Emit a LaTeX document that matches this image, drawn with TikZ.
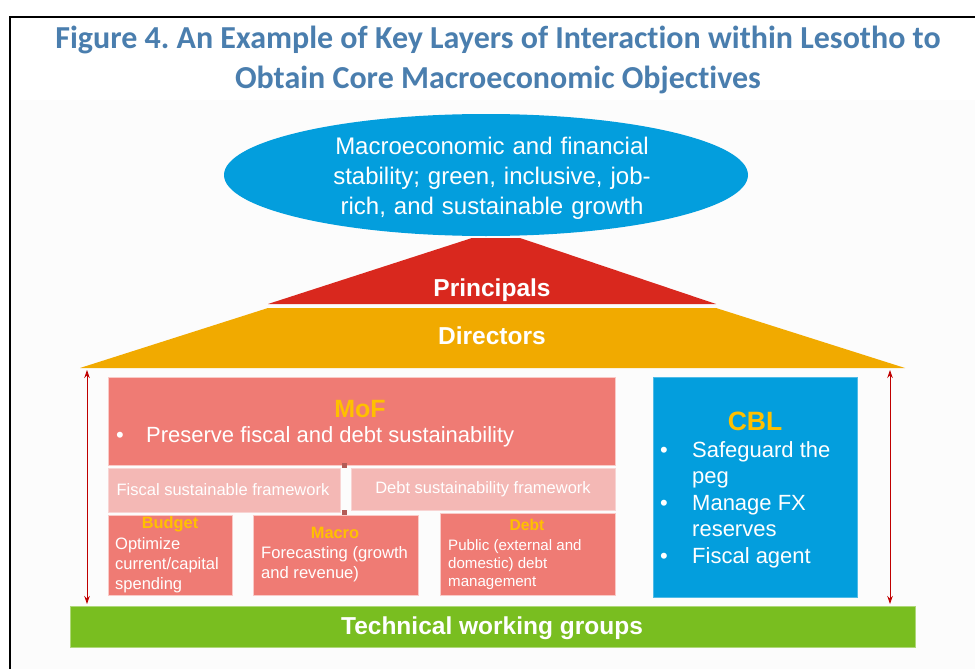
\documentclass[tikz,border=0pt]{standalone}
\usepackage{fontspec}
\setmainfont{Liberation Sans}
\newfontfamily\titlefont[Ligatures={NoCommon}]{Carlito}
\usetikzlibrary{arrows.meta,shapes.geometric}
\definecolor{titleblue}{RGB}{74,126,174}
\definecolor{skyblue}{RGB}{3,158,221}
\definecolor{princred}{RGB}{217,40,30}
\definecolor{dirorange}{RGB}{241,170,0}
\definecolor{salmon}{RGB}{239,123,116}
\definecolor{lightpink}{RGB}{244,184,181}
\definecolor{gold}{RGB}{255,192,0}
\definecolor{grassgreen}{RGB}{121,190,32}
\definecolor{arrowred}{RGB}{192,0,0}
\definecolor{bgray}{RGB}{252,252,252}
\tikzset{
  fs/.style={font=\fontsize{#1}{#1}\selectfont},
  box/.style={draw=white!60!salmon, line width=0.6pt, fill=salmon},
  fwbox/.style={draw=white!40!lightpink, line width=1pt, fill=lightpink},
  lbl/.style={text=white, inner sep=0pt},
  head/.style={text=gold, font=\fontsize{#1}{#1}\selectfont\bfseries, inner sep=0pt},
  span/.style={arrowred, line width=0.9pt, {Stealth[length=8pt,width=5.5pt]}-{Stealth[length=8pt,width=5.5pt]}},
}
\newcommand{\bul}{\makebox[32pt][l]{\textbullet}}
\newcommand{\ind}{\hspace*{32pt}}
\frenchspacing
\begin{document}
\begin{tikzpicture}[x=1pt,y=-1pt]
\useasboundingbox (0,0) rectangle (975,669);
\fill[white] (0,0) rectangle (975,669);
\fill[bgray] (10,100) rectangle (975,669);
% frame
\draw[line width=2pt] (10,669) -- (10,17) -- (975,17);
% title
\node[text=titleblue, font=\titlefont\fontsize{32}{40}\selectfont\bfseries, align=center, inner sep=0pt] (title) at (498,60)
  {Figure 4. An Example of Key Layers of Interaction within Lesotho to\\Obtain Core Macroeconomic Objectives};
% goal ellipse
\node[ellipse, fill=skyblue, minimum width=524pt, minimum height=122pt, inner sep=0pt] (goal) at (486,175) {};
\node[lbl, align=center, text width=360pt, font=\fontsize{24}{30}\selectfont] (goaltxt) at (492,178)
  {Macroeconomic and financial\\stability; green, inclusive, job-\\rich, and sustainable growth};
% principals
\fill[princred] (472,238) -- (520,238) -- (716,304) -- (268,304) -- cycle;
\node[lbl, font=\fontsize{24.5}{24.5}\selectfont\bfseries] (princ) at (492,290) {Principals};
% directors
\fill[dirorange] (268,308) -- (716,308) -- (905,368) -- (80,368) -- cycle;
\node[lbl, font=\fontsize{24.5}{24.5}\selectfont\bfseries] (dir) at (492,336) {Directors};
% MoF
\path[box] (108,377) rectangle (615,465);
\node[head=25] (mof) at (360,409) {MoF};
\node[lbl, anchor=west, font=\fontsize{22}{22}\selectfont] (moft) at (116,437) {\makebox[30pt][l]{\textbullet}Preserve fiscal and debt sustainability};
\fill[salmon!75!black] (342,463) rectangle (347,468);
\fill[salmon!75!black] (342,510) rectangle (347,515);
% frameworks
\path[fwbox] (108,468) rectangle (340,512);
\node[lbl, fs=16.5] (fsf) at (223,490) {Fiscal sustainable framework};
\path[fwbox] (351,468) rectangle (615,510);
\node[lbl, fs=16.5] (dsf) at (483,489) {Debt sustainability framework};
% budget
\path[box] (108,515) rectangle (232,595);
\node[head=16.4] (bud) at (170,524) {Budget};
\node[lbl, anchor=north west, align=left, font=\fontsize{16.5}{20}\selectfont] (budt) at (115,537)
  {Optimize\\current/capital\\spending};
% macro
\path[box] (253,515) rectangle (418,595);
\node[head=16.4] (mac) at (335,533) {Macro};
\node[lbl, anchor=north west, align=left, font=\fontsize{16.6}{20}\selectfont] (mact) at (261,546)
  {Forecasting (growth\\and revenue)};
% debt
\path[box] (440,513) rectangle (615,595);
\node[head=15.6] (debt) at (527,525) {Debt};
\node[lbl, anchor=north west, align=left, font=\fontsize{15.1}{18}\selectfont] (debtt) at (448,539)
  {Public (external and\\domestic) debt\\management};
% CBL
\path[fill=skyblue, draw=white!30!skyblue, line width=0.6pt] (653,377) rectangle (857,597);
\node[head=26.5] (cbl) at (755,421) {CBL};
\node[lbl, anchor=north west, align=left, font=\fontsize{22}{26.5}\selectfont] (cblt) at (660,441)
  {\bul Safeguard the\\\ind peg\\\bul Manage FX\\\ind reserves\\\bul Fiscal agent};
% technical working groups
\path[fill=grassgreen, draw=white!40!grassgreen, line width=0.6pt] (70,606) rectangle (915,647);
\node[lbl, font=\fontsize{24.5}{24.5}\selectfont\bfseries] (twg) at (492,628) {Technical working groups};
% span arrows
\coordinate (la) at (87,370);
\coordinate (lb) at (87,604);
\coordinate (ra) at (890,370);
\coordinate (rb) at (890,604);
\draw[span] (la) -- (lb);
\draw[span] (ra) -- (rb);
\end{tikzpicture}
\end{document}
